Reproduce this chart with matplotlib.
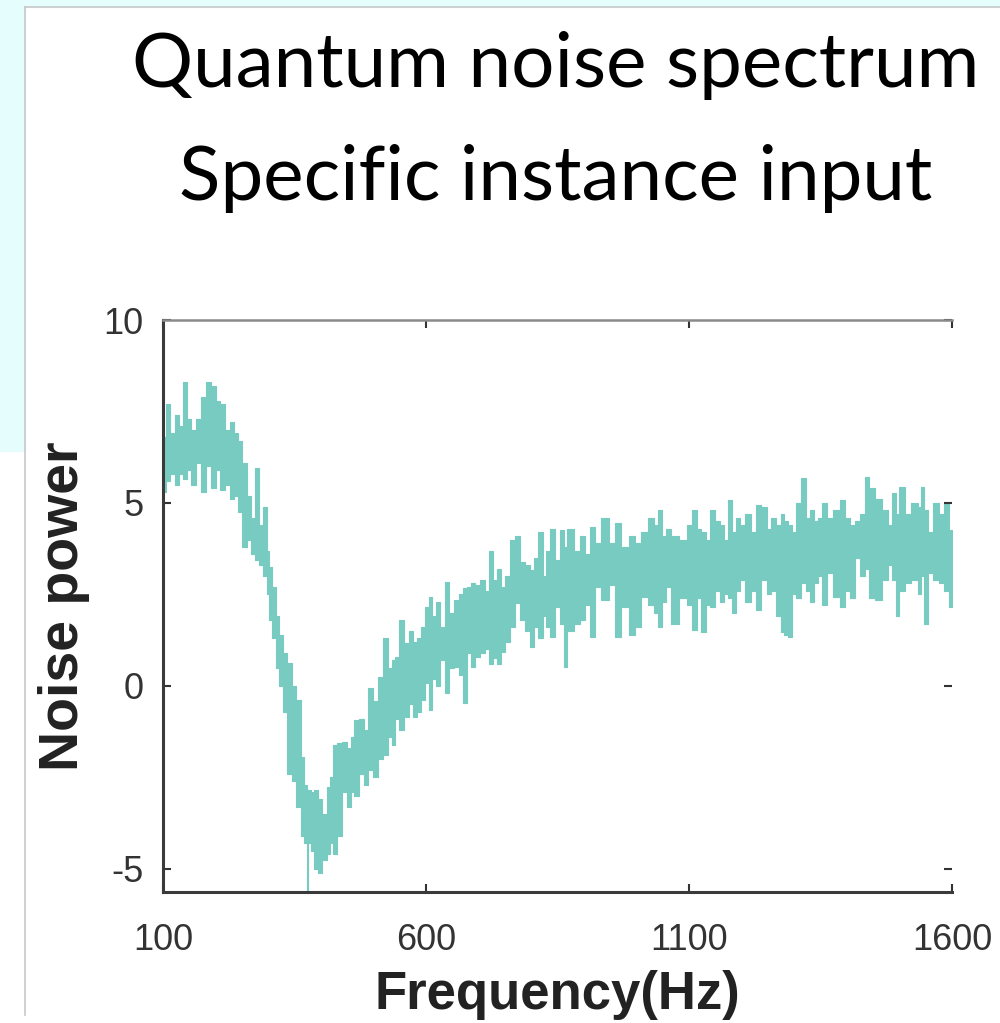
import matplotlib
matplotlib.use('Agg')
from matplotlib import pyplot as plt
from matplotlib.patches import Rectangle
from matplotlib.lines import Line2D

# values: frequency (Hz), upper and lower edge of the noisy trace
freq = [100, 110, 117, 127, 134, 142, 149, 157, 167, 176, 186, 195, 205, 212, 222, 231, 239, 246,
        256, 265, 271, 279, 286, 294, 300, 303, 311, 317, 324, 332, 341, 349, 357, 366, 372, 374,
        378, 383, 391, 398, 408, 414, 421, 427, 436, 446, 454, 459, 469, 478, 486, 494, 503, 513,
        522, 532, 537, 545, 554, 564, 571, 579, 587, 594, 604, 608, 615, 623, 632, 640, 649, 659,
        666, 674, 682, 689, 699, 708, 716, 722, 731, 739, 746, 756, 765, 775, 784, 794, 801, 809,
        817, 826, 832, 840, 851, 860, 864, 874, 887, 898, 908, 916, 927, 940, 954, 965, 978, 992,
        1003, 1016, 1030, 1037, 1045, 1052, 1060, 1073, 1089, 1102, 1111, 1119, 1127, 1136, 1144,
        1153, 1163, 1170, 1178, 1184, 1193, 1201, 1212, 1222, 1231, 1244, 1252, 1260, 1269, 1279,
        1284, 1292, 1300, 1307, 1319, 1326, 1334, 1341, 1349, 1358, 1368, 1381, 1393, 1402, 1410,
        1421, 1431, 1438, 1448, 1459, 1473, 1482, 1491, 1495, 1505, 1516, 1530, 1539, 1545, 1549,
        1558, 1568, 1581, 1590, 1600]
upper = [6.8, 7.7, 6.9, 7.4, 7.1, 8.3, 7.3, 7.0, 7.3, 7.9, 8.3, 8.2, 7.8, 7.7, 7.0, 7.2, 6.9, 6.7,
         6.1, 5.2, 4.6, 5.95, 4.4, 4.9, 3.7, 3.25, 2.7, 1.9, 1.4, 0.9, 0.63, 0.0, -0.38, -1.94, -2.7, -3.0,
         -2.85, -2.9, -2.85, -3.1, -3.5, -2.75, -2.5, -1.6, -1.55, -1.53, -1.7, -1.4, -0.93, -0.9, -1.2, -0.05, -0.4, 0.25,
         1.3, 0.5, 0.7, 0.8, 1.8, 1.17, 1.5, 1.2, 1.3, 1.6, 2.15, 2.43, 1.9, 2.3, 1.6, 2.85, 2.0, 2.35,
         2.5, 2.67, 2.7, 2.8, 2.75, 2.9, 2.6, 3.7, 2.9, 3.2, 2.7, 3.0, 4.0, 4.1, 3.4, 3.3, 3.17, 3.5,
         4.2, 3.0, 3.7, 4.3, 3.45, 4.27, 3.8, 4.3, 3.7, 4.1, 3.6, 4.35, 3.9, 4.6, 3.9, 4.45, 3.8, 4.1,
         3.9, 4.2, 4.6, 4.4, 4.8, 4.1, 4.3, 4.1, 4.0, 4.4, 4.8, 4.3, 4.2, 4.0, 4.8,
         4.5, 4.4, 4.0, 5.08, 4.2, 4.6, 4.4, 4.7, 4.2, 4.95, 4.9, 4.3, 4.6, 4.4, 4.7,
         4.5, 4.4, 4.2, 5.0, 5.68, 4.6, 4.8, 4.5, 4.6, 5.0, 4.6, 4.8, 5.08, 4.6, 4.4,
         4.5, 4.7, 5.7, 5.4, 5.1, 4.8, 4.4, 5.27, 4.7, 5.45, 4.7, 5.0, 4.9, 5.45, 4.8,
         4.2, 5.0, 4.7, 5.0, 4.27]
lower = [5.3, 5.6, 5.8, 5.5, 5.8, 5.65, 5.9, 5.5, 6.1, 5.3, 6.0, 5.4, 5.9, 5.35, 5.5, 5.1, 5.2, 4.75,
         3.8, 4.0, 3.6, 3.45, 3.3, 3.0, 2.5, 1.8, 1.3, 0.5, 0.0, -0.7, -2.4, -2.6, -3.3, -4.1, -4.3, -5.65,
         -4.3, -4.5, -5.0, -5.1, -4.75, -4.6, -4.3, -4.6, -4.1, -2.9, -3.3, -2.9, -3.0, -2.4, -2.7, -2.3, -2.5, -2.0,
         -1.9, -1.4, -1.6, -0.9, -1.2, -0.85, -0.5, -0.85, -0.7, -0.38, 0.08, -0.65, 0.2, 0.0, 0.7, -0.2, 0.5, 0.52,
         0.3, -0.47, 0.9, 0.52, 0.8, 0.9, 1.0, 0.6, 0.76, 0.6, 0.93, 1.2, 1.6, 2.27, 1.8, 1.5, 1.07, 1.6,
         1.3, 1.9, 1.6, 1.35, 2.17, 1.7, 0.52, 1.5, 1.7, 1.8, 2.2, 1.35, 2.7, 2.35, 2.75, 1.35, 2.17, 1.4,
         1.6, 2.43, 2.2, 2.0, 1.6, 2.3, 2.7, 1.7, 2.4, 2.2, 1.53, 2.4, 1.47, 2.2, 2.17,
         2.6, 2.3, 2.5, 2.4, 2.0, 2.6, 2.9, 2.3, 2.6, 2.08, 2.9, 2.5, 2.6, 1.9, 1.47,
         1.4, 1.35, 2.5, 2.4, 2.8, 2.6, 2.3, 2.8, 3.0, 2.2, 3.1, 2.43, 2.17, 2.6, 2.4,
         3.5, 3.0, 3.2, 2.4, 2.35, 2.9, 3.3, 2.9, 1.9, 2.6, 2.8, 2.9, 2.5, 3.0, 1.7,
         3.1, 2.9, 2.8, 2.6, 2.17]

x_ticks = [100, 600, 1100, 1600]
y_ticks = [-5, 0, 5, 10]

TRACE = '#78cbc1'
CYAN = '#e6fdfd'

fig = plt.figure(figsize=(10, 10.23), dpi=100)

# slide background bits
fig.patches.append(Rectangle((0, 1 - 7 / 1023), 1, 7 / 1023, transform=fig.transFigure,
                             color=CYAN, zorder=0))
fig.patches.append(Rectangle((0, 1 - 451 / 1023), 25 / 1000, 451 / 1023, transform=fig.transFigure,
                             color=CYAN, zorder=0))
fig.lines.append(Line2D([25 / 1000, 25 / 1000], [8 / 1023, 1 - 7 / 1023], transform=fig.transFigure,
                        color='#c8c8c8', lw=1.2))
fig.lines.append(Line2D([25 / 1000, 1], [1 - 7 / 1023, 1 - 7 / 1023], transform=fig.transFigure,
                        color='#c8c8c8', lw=1.2))

fig.text(0.556, 1 - 66 / 1023, 'Quantum noise spectrum', ha='center', va='center',
         fontsize=55, family='Lato', color='black')
fig.text(0.556, 1 - 178 / 1023, 'Specific instance input', ha='center', va='center',
         fontsize=55, family='Lato', color='black')

ax = fig.add_axes([0.163, 131 / 1023, 0.789, 572 / 1023])
ax.fill_between(freq, lower, upper, step='mid', color=TRACE, lw=0.8, edgecolor=TRACE)
ax.set_xlim(100, 1600)
ax.set_ylim(-5.63, 10)
ax.set_xticks(x_ticks)
ax.set_yticks(y_ticks)
ax.set_xticklabels([str(t) for t in x_ticks])
ax.set_yticklabels([str(t) for t in y_ticks])

for s in ['left', 'bottom']:
    ax.spines[s].set_color('#3a3a3a')
    ax.spines[s].set_linewidth(2.2)
ax.spines['top'].set_color('#8a8a8a')
ax.spines['top'].set_linewidth(1.8)
ax.spines['right'].set_visible(False)
ax.tick_params(direction='in', length=6, width=1.5, color='#333333', top=True, right=True,
               labelsize=26, labelcolor='#333333')
ax.tick_params(axis='x', pad=22)
ax.tick_params(axis='y', pad=14)
for lab in ax.get_xticklabels() + ax.get_yticklabels():
    lab.set_family('Liberation Sans')

ax.set_ylabel('Noise power', fontsize=40, fontweight='bold', family='Liberation Sans',
              color='#222222', labelpad=10)
fig.text(0.557, 3 / 1023, 'Frequency(Hz)', ha='center', va='bottom', fontsize=38,
         fontweight='bold', family='Liberation Sans', color='#222222')

plt.savefig('out.png', dpi=100)
